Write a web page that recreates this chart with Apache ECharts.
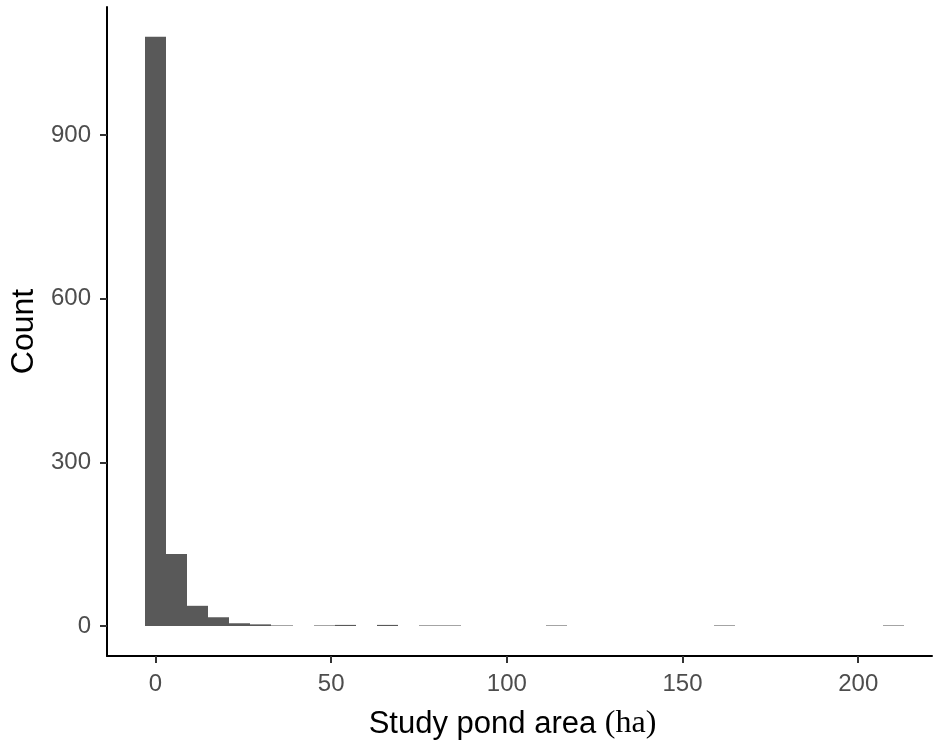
<!DOCTYPE html>
<html>
<head>
<meta charset="utf-8">
<script src="https://cdn.jsdelivr.net/npm/echarts@6/dist/echarts.min.js"></script>
<style>
  html, body { margin: 0; padding: 0; background: #fff; }
  #chart { width: 935px; height: 744px; }
</style>
</head>
<body>
<div id="chart"></div>
<script>
// Histogram bins: width 6 ha, first bin centred at 0
const binWidth = 6;
const counts = [1080, 132, 37, 16, 5, 3, 1, 0, 1, 2, 0, 2, 0, 1, 1, 0, 0, 0,
                0, 1, 0, 0, 0, 0, 0, 0, 0, 1, 0, 0, 0, 0, 0, 0, 0, 1];
const xTicks = [0, 50, 100, 150, 200];
const yTicks = [0, 300, 600, 900];

const data = counts.map((c, i) => [i * binWidth, c]);

const chart = echarts.init(document.getElementById('chart'), null, { renderer: 'canvas' });
const labelFont = 'Liberation Sans, Arial, sans-serif';

chart.setOption({
  animation: false,
  backgroundColor: '#ffffff',
  grid: { left: 107, right: 3, top: 7, bottom: 88, containLabel: false, outerBoundsMode: 'none' },
  xAxis: {
    type: 'value',
    min: -13.8,
    max: 221,
    name: '{s|Study pond area }{t|(ha)}',
    nameLocation: 'middle',
    nameGap: 52,
    nameTextStyle: {
      padding: [0, 14, 0, 0],
      rich: {
        s: { fontFamily: labelFont, fontSize: 31, color: '#000' },
        t: { fontFamily: 'Liberation Serif, Times New Roman, serif', fontSize: 32, color: '#000' }
      }
    },
    axisLine: { show: true, onZero: false, lineStyle: { color: '#000', width: 2 } },
    axisTick: { show: true, length: 7, customValues: xTicks, lineStyle: { color: '#333', width: 2 } },
    axisLabel: { customValues: xTicks, margin: 16, color: '#4D4D4D', fontSize: 24, fontFamily: labelFont },
    splitLine: { show: false }
  },
  yAxis: {
    type: 'value',
    min: -55,
    max: 1134.5,
    name: 'Count',
    nameLocation: 'middle',
    nameGap: 61,
    nameRotate: 90,
    nameTextStyle: { fontFamily: labelFont, fontSize: 32, color: '#000' },
    axisLine: { show: true, onZero: false, lineStyle: { color: '#000', width: 2 } },
    axisTick: { show: true, length: 7, customValues: yTicks, lineStyle: { color: '#333', width: 2 } },
    axisLabel: { customValues: yTicks, margin: 16, color: '#4D4D4D', fontSize: 24, fontFamily: labelFont },
    splitLine: { show: false }
  },
  series: [{
    type: 'custom',
    data: data,
    encode: { x: 0, y: 1 },
    clip: true,
    renderItem: function (params, api) {
      const c = api.value(0), n = api.value(1);
      if (!n) return null;
      const p0 = api.coord([c - binWidth / 2, n]);
      const p1 = api.coord([c + binWidth / 2, 0]);
      const x0 = Math.round(p0[0]), x1 = Math.round(p1[0]);
      return {
        type: 'rect',
        shape: { x: x0, y: p0[1], width: x1 - x0, height: p1[1] - p0[1] },
        style: { fill: '#595959' }
      };
    }
  }]
});
</script>
</body>
</html>
